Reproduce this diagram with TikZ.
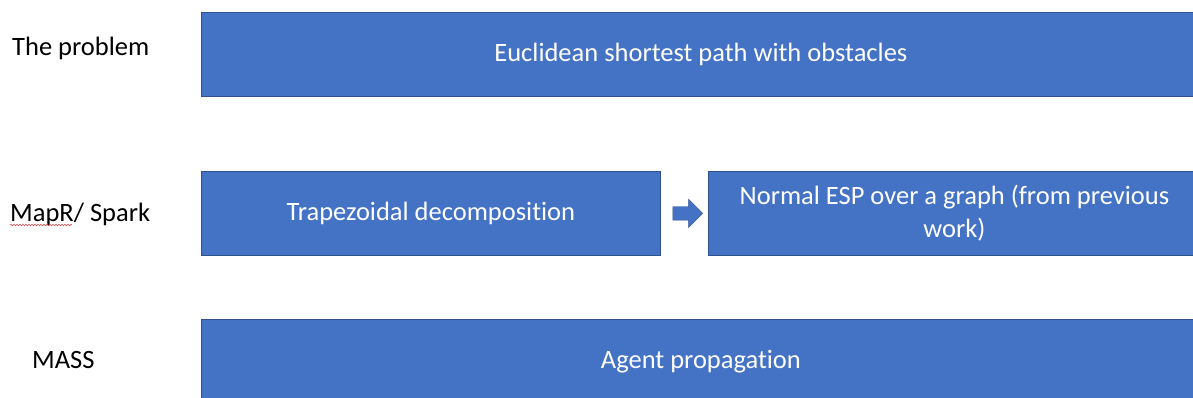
\documentclass[tikz,border=0pt]{standalone}
\usepackage{fontspec}
\setmainfont[Ligatures=NoCommon]{Carlito}
\usetikzlibrary{positioning,calc,shapes.arrows,decorations.pathmorphing}
\definecolor{ink}{HTML}{000000}
\definecolor{boxfill}{HTML}{4472C4}
\definecolor{boxline}{HTML}{2F528F}
\definecolor{squiggle}{HTML}{E03A3A}

\begin{document}
\begin{tikzpicture}[x=1pt,y=-1pt,font=\fontsize{26.5}{33}\selectfont,text=ink,
  stage/.style={draw=boxline,fill=boxfill,text=white,line width=.8pt,
    minimum height=84pt,inner sep=0pt,anchor=north west},
  rowlabel/.style={anchor=west,inner sep=0pt}]
  \clip (0,0) rectangle (1193,398);
  \fill[white] (0,0) rectangle (1193,398);
  % row labels
  \node[rowlabel] (lblproblem) at (12,48) {The problem};
  \node[rowlabel] (lblmapr) at (10,214) {MapR/ Spark};
  \node[rowlabel] (lblmass) at (32,360) {MASS};
  \draw[squiggle,line width=.5pt,decorate,decoration={snake,amplitude=.8pt,segment length=3pt}]
    ([yshift=-4pt]lblmapr.base west) -- ++(62,0);
  % stages
  \node[stage,minimum width=999pt] (problem) at (201,12) {Euclidean shortest path with obstacles};
  \node[stage,minimum width=459pt] (trap) at (201,171) {Trapezoidal decomposition};
  \node[stage,minimum width=492pt,align=center] (esp) at (708,171)
    {Normal ESP over a graph (from previous\\work)};
  \node[stage,minimum width=999pt] (mass) at (201,319) {Agent propagation};
  % block arrow between the two MapR stages
  \node[single arrow,fill=boxfill,draw=boxline,line width=.4pt,inner xsep=0pt,inner ysep=6.5pt,
    minimum height=30pt,minimum width=28pt,single arrow head extend=7.5pt]
    (step1) at ($(trap.east)!.5!(esp.west)$) {};
\end{tikzpicture}
\end{document}
